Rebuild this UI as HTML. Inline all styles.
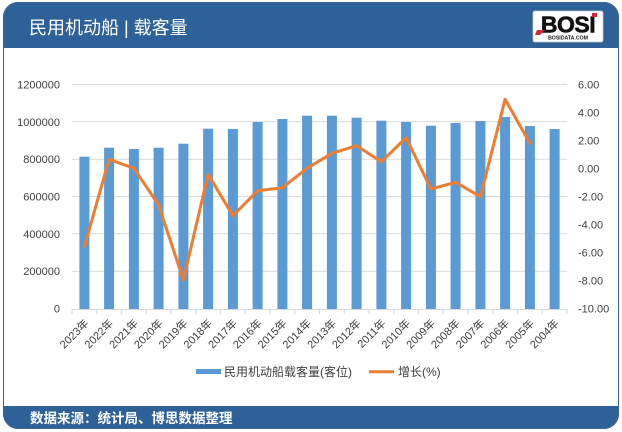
<!DOCTYPE html>
<html>
<head>
<meta charset="utf-8">
<style>
html,body{margin:0;padding:0;background:#fff;}
body{width:622px;height:432px;overflow:hidden;}
svg{display:block;}
text{font-family:"Liberation Sans","Noto Sans CJK SC",sans-serif;}
</style>
</head>
<body>
<svg width="622" height="432" viewBox="0 0 622 432" xmlns="http://www.w3.org/2000/svg">
  <defs>
    <clipPath id="card">
      <rect x="3" y="2" width="616" height="427" rx="15" ry="15"/>
    </clipPath>
  </defs>
  <!-- card -->
  <g clip-path="url(#card)">
    <rect x="3" y="2" width="616" height="427" fill="#ffffff"/>
    <rect x="3" y="2" width="616" height="46" fill="#2f6199"/>
    <rect x="3" y="406" width="616" height="23" fill="#2f6199"/>
  </g>
  <rect x="3.5" y="2.5" width="615" height="426" rx="15" ry="15" fill="none" stroke="#3b6796" stroke-width="1"/>

  <!-- title -->
  <text x="29" y="34" font-size="18" fill="#ffffff">民用机动船 | 载客量</text>

  <!-- logo -->
  <rect x="533" y="11" width="70" height="31" rx="2" fill="#ffffff" stroke="#c8c8c8" stroke-width="0.8"/>
  <text x="568" y="32.5" font-size="23" font-weight="bold" fill="#111111" text-anchor="middle" letter-spacing="-0.5" stroke="#111111" stroke-width="0.6" style="font-family:'Liberation Sans',sans-serif">BOSI</text>
  <polygon points="537,30 545,30 540,35 535,35" fill="#d8263a"/>
  <rect x="592" y="13" width="5" height="4" fill="#d8263a"/>
  <text x="568" y="39.5" font-size="5.2" fill="#1a1a1a" text-anchor="middle" font-weight="bold">BOSIDATA.COM</text>

  <!-- gridlines -->
  <g stroke="#d9d9d9" stroke-width="1">
    <line x1="72" y1="84.5" x2="567" y2="84.5"/>
    <line x1="72" y1="121.8" x2="567" y2="121.8"/>
    <line x1="72" y1="159.2" x2="567" y2="159.2"/>
    <line x1="72" y1="196.5" x2="567" y2="196.5"/>
    <line x1="72" y1="233.8" x2="567" y2="233.8"/>
    <line x1="72" y1="271.2" x2="567" y2="271.2"/>
  </g>

  <!-- bars -->
  <g fill="#5b9bd5">
    <rect x="79.4" y="156.7" width="10" height="152.3"/>
    <rect x="104.1" y="147.7" width="10" height="161.3"/>
    <rect x="128.9" y="149" width="10" height="160"/>
    <rect x="153.6" y="147.7" width="10" height="161.3"/>
    <rect x="178.4" y="143.7" width="10" height="165.3"/>
    <rect x="203.1" y="128.7" width="10" height="180.3"/>
    <rect x="227.9" y="129" width="10" height="180"/>
    <rect x="252.6" y="122" width="10" height="187"/>
    <rect x="277.4" y="119" width="10" height="190"/>
    <rect x="302.1" y="115.7" width="10" height="193.3"/>
    <rect x="326.9" y="115.7" width="10" height="193.3"/>
    <rect x="351.6" y="117.7" width="10" height="191.3"/>
    <rect x="376.4" y="120.7" width="10" height="188.3"/>
    <rect x="401.1" y="122" width="10" height="187"/>
    <rect x="425.9" y="125.7" width="10" height="183.3"/>
    <rect x="450.6" y="123" width="10" height="186"/>
    <rect x="475.4" y="121" width="10" height="188"/>
    <rect x="500.1" y="117" width="10" height="192"/>
    <rect x="524.9" y="126" width="10" height="183"/>
    <rect x="549.6" y="129" width="10" height="180"/>
  </g>

  <!-- x axis -->
  <line x1="72" y1="309.5" x2="567" y2="309.5" stroke="#d9d9d9" stroke-width="1"/>
  <g stroke="#d9d9d9" stroke-width="1">
    <line x1="72" y1="309" x2="72" y2="314"/>
    <line x1="96.75" y1="309" x2="96.75" y2="314"/>
    <line x1="121.5" y1="309" x2="121.5" y2="314"/>
    <line x1="146.25" y1="309" x2="146.25" y2="314"/>
    <line x1="171" y1="309" x2="171" y2="314"/>
    <line x1="195.75" y1="309" x2="195.75" y2="314"/>
    <line x1="220.5" y1="309" x2="220.5" y2="314"/>
    <line x1="245.25" y1="309" x2="245.25" y2="314"/>
    <line x1="270" y1="309" x2="270" y2="314"/>
    <line x1="294.75" y1="309" x2="294.75" y2="314"/>
    <line x1="319.5" y1="309" x2="319.5" y2="314"/>
    <line x1="344.25" y1="309" x2="344.25" y2="314"/>
    <line x1="369" y1="309" x2="369" y2="314"/>
    <line x1="393.75" y1="309" x2="393.75" y2="314"/>
    <line x1="418.5" y1="309" x2="418.5" y2="314"/>
    <line x1="443.25" y1="309" x2="443.25" y2="314"/>
    <line x1="468" y1="309" x2="468" y2="314"/>
    <line x1="492.75" y1="309" x2="492.75" y2="314"/>
    <line x1="517.5" y1="309" x2="517.5" y2="314"/>
    <line x1="542.25" y1="309" x2="542.25" y2="314"/>
    <line x1="567" y1="309" x2="567" y2="314"/>
  </g>

  <!-- line series -->
  <polyline fill="none" stroke="#ed7d31" stroke-width="3" stroke-linejoin="round" stroke-linecap="round"
    points="84.4,246.7 109.1,159.3 133.9,168.3 158.6,205 183.4,280 208.1,174.3 232.9,215.7 257.6,190.7 282.4,187.7 307.1,168.3 331.9,153.3 356.6,145.7 381.4,161.7 406.1,137.7 430.9,189 455.6,182.3 480.4,196.7 505.1,99.3 529.9,143.3"/>

  <!-- left axis labels -->
  <g font-size="11" fill="#404040" text-anchor="end">
    <text x="60" y="88.5">1200000</text>
    <text x="60" y="125.8">1000000</text>
    <text x="60" y="163.2">800000</text>
    <text x="60" y="200.5">600000</text>
    <text x="60" y="237.8">400000</text>
    <text x="60" y="275.2">200000</text>
    <text x="60" y="312.5">0</text>
  </g>

  <!-- right axis labels -->
  <g font-size="11" fill="#404040">
    <text x="578" y="88.5">6.00</text>
    <text x="578" y="116.5">4.00</text>
    <text x="578" y="144.5">2.00</text>
    <text x="578" y="172.5">0.00</text>
    <text x="578" y="200.5">-2.00</text>
    <text x="578" y="228.5">-4.00</text>
    <text x="578" y="256.5">-6.00</text>
    <text x="578" y="284.5">-8.00</text>
    <text x="578" y="312.5">-10.00</text>
  </g>

  <!-- x labels -->
  <g font-size="11" fill="#404040" text-anchor="end">
    <text transform="translate(89.4,324) rotate(-45)">2023年</text>
    <text transform="translate(114.1,324) rotate(-45)">2022年</text>
    <text transform="translate(138.9,324) rotate(-45)">2021年</text>
    <text transform="translate(163.6,324) rotate(-45)">2020年</text>
    <text transform="translate(188.4,324) rotate(-45)">2019年</text>
    <text transform="translate(213.1,324) rotate(-45)">2018年</text>
    <text transform="translate(237.9,324) rotate(-45)">2017年</text>
    <text transform="translate(262.6,324) rotate(-45)">2016年</text>
    <text transform="translate(287.4,324) rotate(-45)">2015年</text>
    <text transform="translate(312.1,324) rotate(-45)">2014年</text>
    <text transform="translate(336.9,324) rotate(-45)">2013年</text>
    <text transform="translate(361.6,324) rotate(-45)">2012年</text>
    <text transform="translate(386.4,324) rotate(-45)">2011年</text>
    <text transform="translate(411.1,324) rotate(-45)">2010年</text>
    <text transform="translate(435.9,324) rotate(-45)">2009年</text>
    <text transform="translate(460.6,324) rotate(-45)">2008年</text>
    <text transform="translate(485.4,324) rotate(-45)">2007年</text>
    <text transform="translate(510.1,324) rotate(-45)">2006年</text>
    <text transform="translate(534.9,324) rotate(-45)">2005年</text>
    <text transform="translate(559.6,324) rotate(-45)">2004年</text>
  </g>

  <!-- legend -->
  <rect x="196" y="369" width="25" height="5" fill="#5b9bd5"/>
  <text x="224" y="376" font-size="12" fill="#404040">民用机动船载客量(客位)</text>
  <line x1="369" y1="371.7" x2="394" y2="371.7" stroke="#ed7d31" stroke-width="3"/>
  <text x="398" y="376" font-size="12" fill="#404040">增长(%)</text>

  <!-- footer text -->
  <text x="30" y="423" font-size="13.5" font-weight="bold" fill="#ffffff">数据来源：统计局、博思数据整理</text>
</svg>
</body>
</html>
